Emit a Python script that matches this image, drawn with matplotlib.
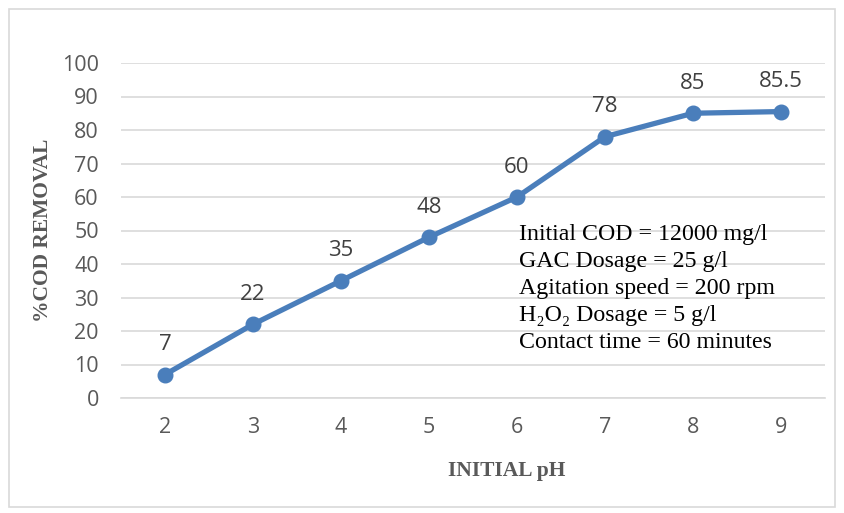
import matplotlib.pyplot as plt
from matplotlib.patches import Rectangle

ph = [2, 3, 4, 5, 6, 7, 8, 9]
cod_removal = [7, 22, 35, 48, 60, 78, 85, 85.5]
value_labels = ['7', '22', '35', '48', '60', '78', '85', '85.5']
conditions = [
    'Initial COD = 12000 mg/l',
    'GAC Dosage = 25 g/l',
    'Agitation speed = 200 rpm',
    'H\u2082O\u2082 Dosage = 5 g/l',
    'Contact time = 60 minutes',
]

blue = '#4a7ebb'
grey = '#595959'

fig = plt.figure(figsize=(8.44, 5.13), dpi=100)
ax = fig.add_axes([121 / 844, 1 - 398 / 513, 704 / 844, 335 / 513])

# chart frame
fig.patches.append(Rectangle((9 / 844, 6 / 513), 826 / 844, 498 / 513,
                             transform=fig.transFigure, fill=False,
                             edgecolor='#d9d9d9', linewidth=1.2))

ax.plot(ph, cod_removal, color=blue, linewidth=3.8, marker='o',
        markersize=10.5, zorder=3)
for x, y, s in zip(ph, cod_removal, value_labels):
    ax.annotate(s, (x, y), xytext=(0, 14), textcoords='offset points',
                ha='center', va='bottom', fontsize=16, color='#404040',
                family='Open Sans')

ax.set_xlim(1.5, 9.5)
ax.set_ylim(0, 100)
ax.set_yticks(range(0, 101, 10))
ax.set_xticks(ph)
ax.yaxis.grid(True, color='#d9d9d9', linewidth=1.2)
ax.set_axisbelow(True)
for side in ['top', 'right', 'left']:
    ax.spines[side].set_visible(False)
ax.spines['bottom'].set_color('#d9d9d9')
ax.spines['bottom'].set_linewidth(1.2)
ax.tick_params(length=0, labelsize=15.5, labelcolor=grey)
ax.tick_params(axis='x', pad=14)
ax.tick_params(axis='y', pad=16)
for lbl in ax.get_xticklabels() + ax.get_yticklabels():
    lbl.set_family('Open Sans')

ax.set_xlabel('INITIAL pH', family='Liberation Serif', fontweight='bold',
              fontsize=15.5, color=grey)
ax.set_ylabel('%COD REMOVAL', family='Liberation Serif', fontweight='bold',
              fontsize=15.5, color=grey)
ax.xaxis.set_label_coords(0.548, -0.188)
ax.yaxis.set_label_coords(-0.097, 0.5)

ax.text(0.565, 0.52, '\n'.join(conditions), transform=ax.transAxes,
        ha='left', va='top', fontsize=17.2, linespacing=1.38,
        family=['Liberation Serif', 'DejaVu Serif'], color='black')

fig.savefig('out.png', dpi=100)
